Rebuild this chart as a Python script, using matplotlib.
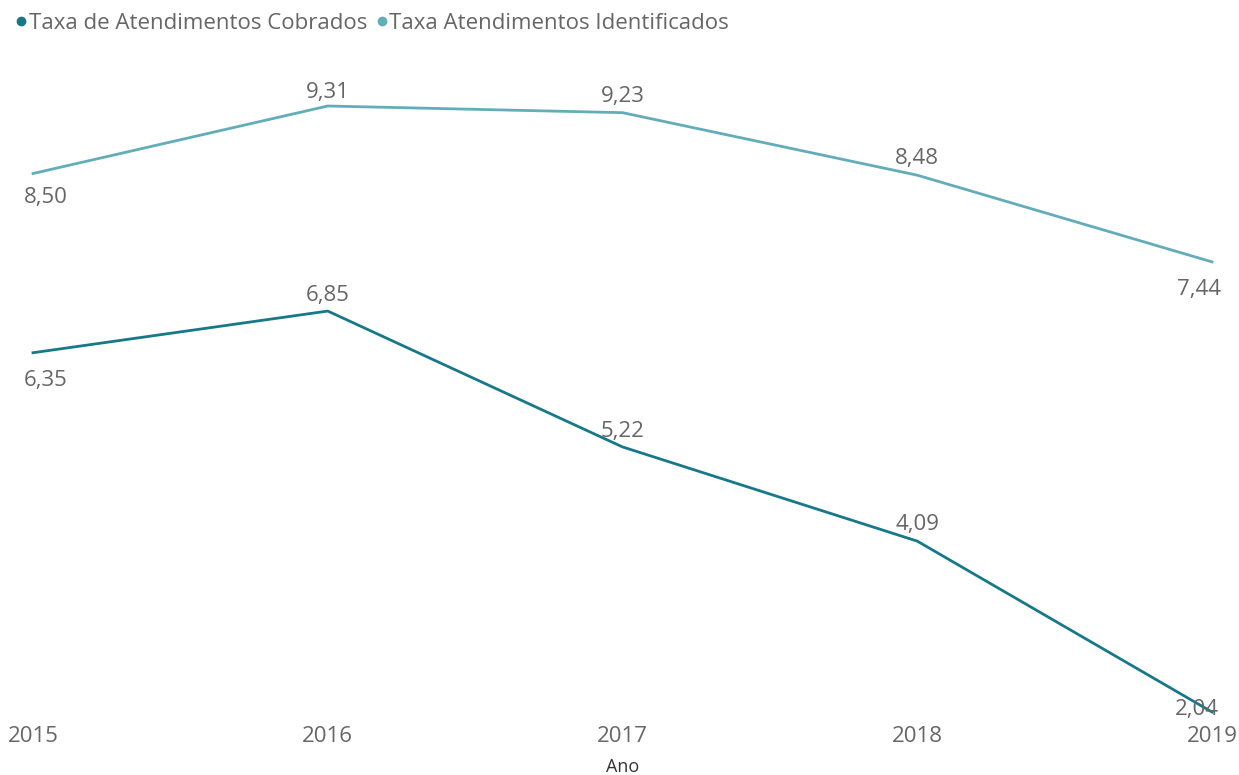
import matplotlib.pyplot as plt
from matplotlib.lines import Line2D

plt.rcParams['font.family'] = ['Open Sans', 'DejaVu Sans']

anos = [2015, 2016, 2017, 2018, 2019]
cobrados = [6.35, 6.85, 5.22, 4.09, 2.04]
identificados = [8.50, 9.31, 9.23, 8.48, 7.44]

cor_cobrados = '#17788a'
cor_identificados = '#62adb9'
cinza = '#666666'

fig = plt.figure(figsize=(12.39, 7.75), dpi=100)
ax = fig.add_axes([33 / 1239, 63 / 775, (1212 - 33) / 1239, (712 - 106) / 775])

ax.plot(anos, identificados, color=cor_identificados, lw=2, clip_on=False)
ax.plot(anos, cobrados, color=cor_cobrados, lw=2, clip_on=False)

ax.set_xlim(2015, 2019)
ax.set_ylim(2.04, 9.31)

# offsets dos rótulos (pontos)
off_ident = [(9, -17), (0, 10), (0, 12), (0, 12), (-9, -20)]
off_cobr = [(9, -20), (0, 11), (0, 11), (0, 12), (-11, 2)]

for x, y, (dx, dy) in zip(anos, identificados, off_ident):
    ax.annotate(f'{y:.2f}'.replace('.', ','), (x, y), xytext=(dx, dy),
                textcoords='offset points', ha='center', va='center',
                fontsize=16, color=cinza, annotation_clip=False)
for x, y, (dx, dy) in zip(anos, cobrados, off_cobr):
    ax.annotate(f'{y:.2f}'.replace('.', ','), (x, y), xytext=(dx, dy),
                textcoords='offset points', ha='center', va='center',
                fontsize=16, color=cinza, annotation_clip=False)

ax.set_xticks(anos)
ax.set_xticklabels([str(a) for a in anos], fontsize=16, color=cinza)
ax.tick_params(axis='x', length=0, pad=10)
ax.set_yticks([])
for s in ax.spines.values():
    s.set_visible(False)
ax.set_xlabel('Ano', fontsize=13, color='#333333', labelpad=8)

handles = [
    Line2D([], [], marker='o', ls='', color=cor_cobrados, markersize=6),
    Line2D([], [], marker='o', ls='', color=cor_identificados, markersize=6),
]
fig.legend(handles, ['Taxa de Atendimentos Cobrados', 'Taxa Atendimentos Identificados'],
           loc='upper left', bbox_to_anchor=(0.0, 1.003), ncol=2, frameon=False,
           fontsize=16, labelcolor=cinza, handlelength=0.5, handletextpad=0.1,
           columnspacing=0.4, borderaxespad=0.3)

fig.savefig('out.png', dpi=100)
